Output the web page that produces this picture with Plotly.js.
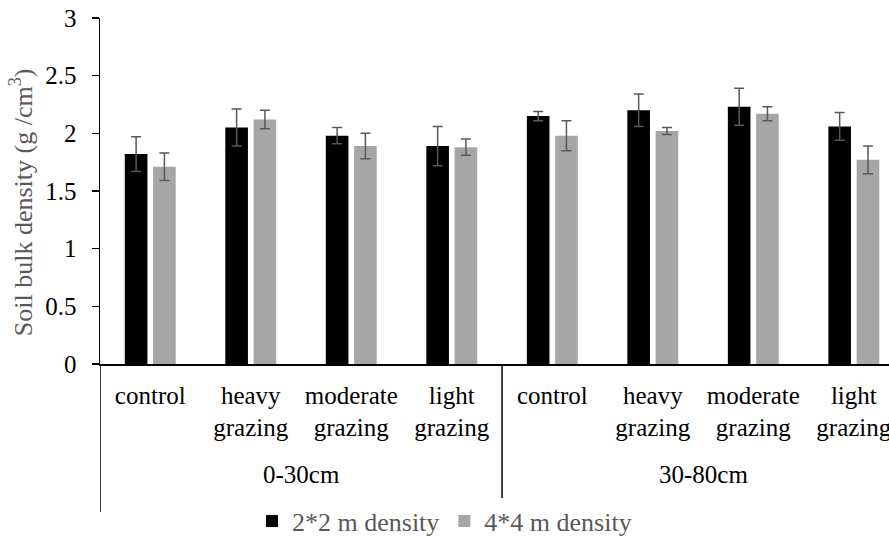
<!DOCTYPE html>
<html>
<head>
<meta charset="utf-8">
<script src="https://cdn.plot.ly/plotly-3.0.1.min.js"></script>
<style>html,body{margin:0;padding:0;background:#fff;}#chart{width:889px;height:540px;}</style>
</head>
<body>
<div id="chart"></div>
<script>
var depthGroups = ['0-30cm','0-30cm','0-30cm','0-30cm','30-80cm','30-80cm','30-80cm','30-80cm'];
var treatments = ['control','heavy<br>grazing','moderate<br>grazing','light<br>grazing',
                  'control','heavy<br>grazing','moderate<br>grazing','light<br>grazing'];
var density2x2 = [1.82, 2.05, 1.98, 1.89, 2.15, 2.20, 2.23, 2.06];
var error2x2   = [0.15, 0.16, 0.07, 0.17, 0.04, 0.14, 0.16, 0.12];
var density4x4 = [1.71, 2.12, 1.89, 1.88, 1.98, 2.02, 2.17, 1.77];
var error4x4   = [0.12, 0.08, 0.11, 0.07, 0.13, 0.03, 0.06, 0.12];
var seriesNames = ['2*2 m density', '4*4 m density'];
var groupNames = ['0-30cm', '30-80cm'];
var yTickVals = [0, 0.5, 1, 1.5, 2, 2.5, 3];
var yTickText = ['0', '0.5', '1', '1.5', '2', '2.5', '3'];

var serif = "'Liberation Serif', 'Times New Roman', serif";
var errStyle = {type: 'data', visible: true, color: '#595959', thickness: 1.5, width: 5};

// unique category keys built from the two label levels
var catKeys = depthGroups.map(function (g, i) { return g + ' / ' + treatments[i]; });

var traces = [
  {type: 'bar', name: seriesNames[0], x: catKeys, y: density2x2,
   marker: {color: '#000000', line: {width: 0}},
   error_y: Object.assign({array: error2x2}, errStyle)},
  {type: 'bar', name: seriesNames[1], x: catKeys, y: density4x4,
   marker: {color: '#a6a6a6', line: {width: 0}},
   error_y: Object.assign({array: error4x4}, errStyle)}
];

// group labels and dividers, positioned on the category axis
var annotations = [];
var shapes = [];
groupNames.forEach(function (g) {
  var idx = [];
  depthGroups.forEach(function (d, i) { if (d === g) idx.push(i); });
  var mid = (idx[0] + idx[idx.length - 1]) / 2;
  annotations.push({text: g, xref: 'x', x: mid, yref: 'paper', y: -0.318, yanchor: 'middle',
                    xanchor: 'center', showarrow: false, font: {family: serif, size: 25, color: '#000000'}});
  shapes.push({type: 'line', xref: 'x', x0: idx[0] - 0.5, x1: idx[0] - 0.5, yref: 'paper', y0: 0, y1: -0.428,
               line: {color: '#000000', width: 1.5}});
});
annotations.push({text: 'Soil bulk density (g /cm<sup>3</sup>)', textangle: -90, xref: 'paper', x: -0.1,
                  xanchor: 'center', yref: 'paper', y: 0.468, yanchor: 'middle', showarrow: false,
                  font: {family: serif, size: 26, color: '#595959'}});

var layout = {
  width: 889, height: 540,
  margin: {l: 100, r: 0, t: 18, b: 176},
  paper_bgcolor: '#ffffff', plot_bgcolor: '#ffffff',
  font: {family: serif, size: 25, color: '#000000'},
  barmode: 'group', bargap: 0.437, bargroupgap: 0.2,
  showlegend: true,
  legend: {orientation: 'h', x: 0.5, xanchor: 'center', xref: 'container', y: 0.035, yanchor: 'middle', yref: 'container',
           font: {family: serif, size: 26, color: '#595959'}, traceorder: 'normal'},
  xaxis: {
    type: 'category', range: [-0.5, 7.35], tickangle: 0,
    tickvals: catKeys, ticktext: treatments,
    showline: true, linecolor: '#000000', linewidth: 1.5,
    showgrid: false, ticks: '', zeroline: false,
    ticklabelstandoff: 8,
    tickfont: {family: serif, size: 25, color: '#000000'}
  },
  yaxis: {
    range: [0, 3], tickvals: yTickVals, ticktext: yTickText,
    showline: true, linecolor: '#000000', linewidth: 1.5,
    ticks: 'outside', ticklen: 7, tickcolor: '#000000', tickwidth: 1.5,
    showgrid: false, zeroline: false, ticklabelstandoff: 10,
    tickfont: {family: serif, size: 25, color: '#000000'}
  },
  annotations: annotations,
  shapes: shapes
};

Plotly.newPlot('chart', traces, layout, {displayModeBar: false, staticPlot: true});
</script>
</body>
</html>
